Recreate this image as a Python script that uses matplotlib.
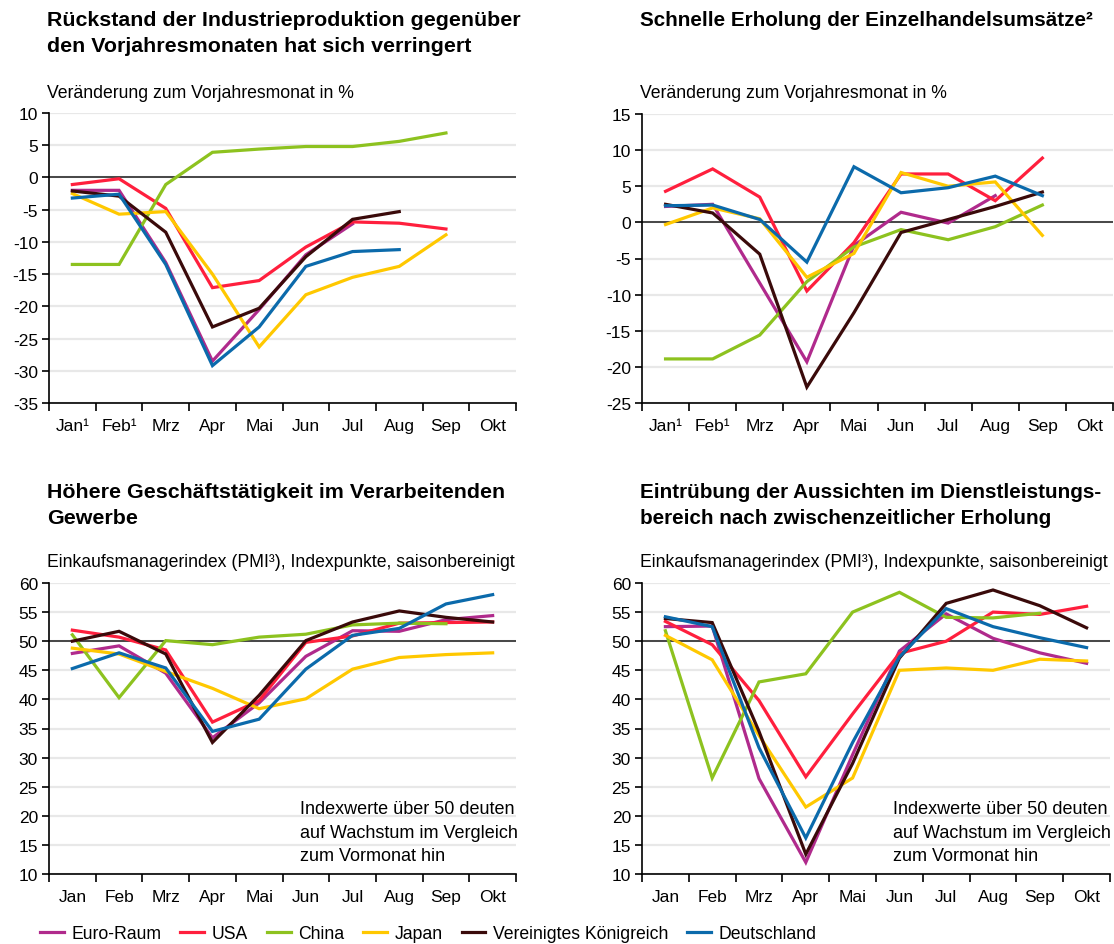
import numpy as np
import matplotlib
matplotlib.use("Agg")
import matplotlib.pyplot as plt

plt.rcParams['font.family'] = ['Liberation Sans', 'DejaVu Sans']

nan = np.nan
MONTHS_1 = ['Jan¹', 'Feb¹', 'Mrz', 'Apr', 'Mai', 'Jun', 'Jul', 'Aug', 'Sep', 'Okt']
MONTHS = ['Jan', 'Feb', 'Mrz', 'Apr', 'Mai', 'Jun', 'Jul', 'Aug', 'Sep', 'Okt']
SERIES = ['Euro-Raum', 'USA', 'China', 'Japan', 'Vereinigtes Königreich', 'Deutschland']
COLORS = ['#B02A8C', '#FF1F3D', '#8DC21F', '#FFC800', '#3A0A0A', '#0B6AAB']

# Industrieproduktion, Veränderung zum Vorjahresmonat in %
IP_EURO = [-2.0, -2.0, -13.2, -28.5, -20.5, -12.0, -7.2, nan, nan, nan]
IP_USA = [-1.1, -0.2, -4.8, -17.1, -16.0, -10.8, -6.9, -7.1, -8.0, nan]
IP_CHINA = [-13.5, -13.5, -1.1, 3.9, 4.4, 4.8, 4.8, 5.6, 6.9, nan]
IP_JAPAN = [-2.5, -5.7, -5.3, -15.0, -26.3, -18.2, -15.5, -13.8, -8.9, nan]
IP_UK = [-2.1, -2.9, -8.5, -23.2, -20.3, -12.3, -6.5, -5.3, nan, nan]
IP_DE = [-3.2, -2.6, -13.5, -29.2, -23.2, -13.8, -11.5, -11.2, nan, nan]

# Einzelhandelsumsätze, Veränderung zum Vorjahresmonat in %
RT_EURO = [2.2, 2.5, -8.4, -19.3, -3.2, 1.4, -0.1, 3.7, nan, nan]
RT_USA = [4.3, 7.4, 3.5, -9.5, -2.8, 6.7, 6.7, 3.0, 8.9, nan]
RT_CHINA = [-18.9, -18.9, -15.6, -8.2, -3.4, -1.0, -2.4, -0.6, 2.4, nan]
RT_JAPAN = [-0.3, 2.0, 0.5, -7.6, -4.3, 6.9, 5.0, 5.6, -1.8, nan]
RT_UK = [2.5, 1.3, -4.4, -22.8, -12.5, -1.4, 0.4, 2.2, 4.2, nan]
RT_DE = [2.3, 2.4, 0.4, -5.5, 7.7, 4.1, 4.8, 6.4, 3.7, nan]

# PMI Verarbeitendes Gewerbe
PM_EURO = [47.9, 49.2, 44.5, 33.4, 39.4, 47.4, 51.8, 51.7, 53.7, 54.4]
PM_USA = [51.9, 50.7, 48.5, 36.1, 39.8, 49.8, 50.9, 53.1, 53.2, 53.3]
PM_CHINA = [51.1, 40.3, 50.1, 49.4, 50.7, 51.2, 52.8, 53.1, 53.0, nan]
PM_JAPAN = [48.8, 47.8, 44.8, 41.9, 38.4, 40.1, 45.2, 47.2, 47.7, 48.0]
PM_UK = [50.0, 51.7, 47.8, 32.6, 40.7, 50.1, 53.3, 55.2, 54.1, 53.3]
PM_DE = [45.3, 48.0, 45.4, 34.5, 36.6, 45.2, 51.0, 52.2, 56.4, 58.0]

# PMI Dienstleistungen
PS_EURO = [52.5, 52.6, 26.4, 12.0, 30.5, 48.3, 54.7, 50.5, 48.0, 46.2]
PS_USA = [53.4, 49.4, 39.8, 26.7, 37.5, 47.9, 50.0, 55.0, 54.6, 56.0]
PS_CHINA = [51.8, 26.5, 43.0, 44.4, 55.0, 58.4, 54.1, 54.0, 54.8, nan]
PS_JAPAN = [51.0, 46.8, 33.8, 21.5, 26.5, 45.0, 45.4, 45.0, 46.9, 46.6]
PS_UK = [53.9, 53.2, 34.5, 13.4, 29.0, 47.1, 56.5, 58.8, 56.1, 52.3]
PS_DE = [54.2, 52.5, 31.7, 16.2, 32.6, 47.3, 55.6, 52.5, 50.6, 48.9]

W, H = 1114, 945
fig = plt.figure(figsize=(W / 100, H / 100), dpi=100)


def px_axes(l, t, r, b):
    return fig.add_axes([l / W, 1 - b / H, (r - l) / W, (b - t) / H])


def ftext(x, y, s, **kw):
    fig.text(x / W, 1 - y / H, s, va='center', ha='left', **kw)


def panel(ax, data, labels, ylim, step, ref):
    x = np.arange(len(labels))
    ax.set_xlim(-0.5, len(labels) - 0.5)
    ax.set_ylim(*ylim)
    yt = np.arange(ylim[0], ylim[1] + 0.1, step)
    ax.set_yticks(yt)
    ax.set_yticklabels([str(int(v)) for v in yt], fontsize=12.5)
    ax.yaxis.grid(True, color='#e8e8e8', lw=1.6)
    ax.set_axisbelow(True)
    ax.set_xticks(x)
    ax.set_xticklabels(labels, fontsize=12.5)
    ax.set_xticks(np.arange(-0.5, len(labels)), minor=True)
    ax.tick_params(axis='x', which='major', length=0, pad=11)
    ax.tick_params(axis='x', which='minor', length=6, width=1.2, direction='out')
    ax.tick_params(axis='y', length=5, width=1.2, pad=3)
    for s in ['top', 'right']:
        ax.spines[s].set_visible(False)
    for s in ['left', 'bottom']:
        ax.spines[s].set_linewidth(1.2)
    ax.axhline(ref, color='#1a1a1a', lw=1.1, zorder=2)
    for vals, c in zip(data, COLORS):
        ax.plot(x, vals, color=c, lw=2.3, zorder=3, solid_joinstyle='miter')


ax1 = px_axes(49, 114, 516, 404)
panel(ax1, [IP_EURO, IP_USA, IP_CHINA, IP_JAPAN, IP_UK, IP_DE], MONTHS_1, (-35, 10), 5, 0)
ax2 = px_axes(642, 115, 1113, 404)
panel(ax2, [RT_EURO, RT_USA, RT_CHINA, RT_JAPAN, RT_UK, RT_DE], MONTHS_1, (-25, 15), 5, 0)
ax3 = px_axes(49, 584, 516, 875)
panel(ax3, [PM_EURO, PM_USA, PM_CHINA, PM_JAPAN, PM_UK, PM_DE], MONTHS, (10, 60), 5, 50)
ax4 = px_axes(642, 584, 1110, 875)
panel(ax4, [PS_EURO, PS_USA, PS_CHINA, PS_JAPAN, PS_UK, PS_DE], MONTHS, (10, 60), 5, 50)

note = 'Indexwerte über 50 deuten\nauf Wachstum im Vergleich\nzum Vormonat hin'
ftext(300, 833, note, fontsize=13, linespacing=1.5)
ftext(893, 833, note, fontsize=13, linespacing=1.5)

tkw = dict(fontsize=15.4, fontweight='bold')
rkw = dict(fontsize=14.9, fontweight='bold')
ftext(47, 20, 'Rückstand der Industrieproduktion gegenüber', **tkw)
ftext(47, 47, 'den Vorjahresmonaten hat sich verringert', **tkw)
ftext(640, 20, 'Schnelle Erholung der Einzelhandelsumsätze²', **rkw)
ftext(47, 492, 'Höhere Geschäftstätigkeit im Verarbeitenden', **tkw)
ftext(47, 519, 'Gewerbe', **tkw)
ftext(640, 492, 'Eintrübung der Aussichten im Dienstleistungs-', **rkw)
ftext(640, 519, 'bereich nach zwischenzeitlicher Erholung', **rkw)

skw = dict(fontsize=12.7)
ftext(47, 94, 'Veränderung zum Vorjahresmonat in %', **skw)
ftext(640, 94, 'Veränderung zum Vorjahresmonat in %', **skw)
ftext(47, 563, 'Einkaufsmanagerindex (PMI³), Indexpunkte, saisonbereinigt', **skw)
ftext(640, 563, 'Einkaufsmanagerindex (PMI³), Indexpunkte, saisonbereinigt', **skw)

handles = ax1.get_lines()[1:]
fig.legend(handles, SERIES, loc='center left', bbox_to_anchor=(40 / W, 1 - 935 / H),
           ncol=6, frameon=False, fontsize=12.7, handlelength=1.35,
           handletextpad=0.45, columnspacing=1.05, borderaxespad=0, borderpad=0)

fig.savefig('out.png', dpi=100)
